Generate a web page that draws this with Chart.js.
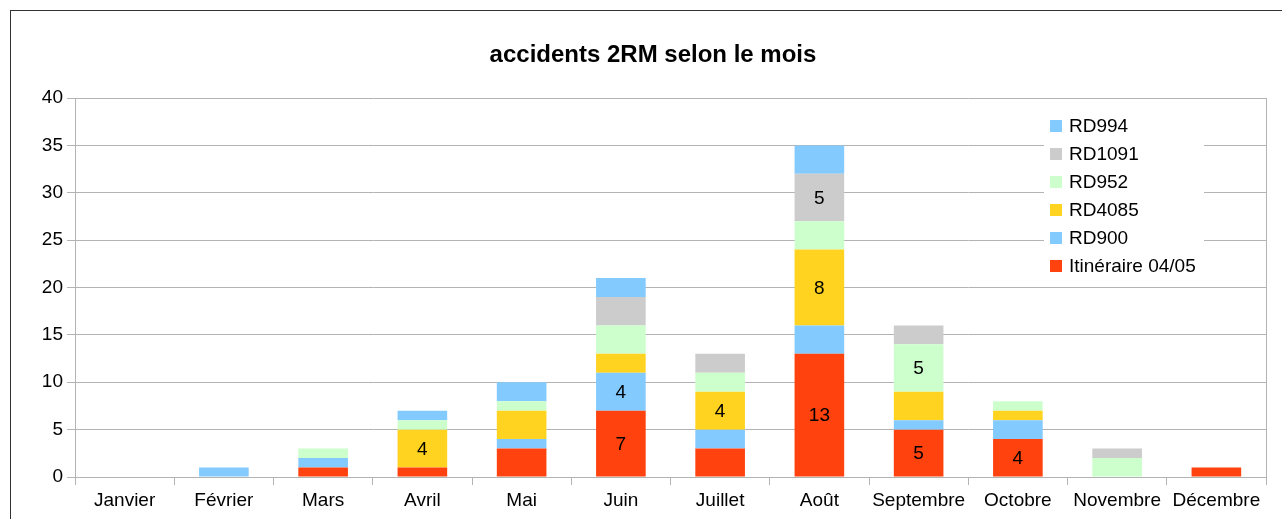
<!DOCTYPE html>
<html>
<head>
<meta charset="utf-8">
<script src="https://cdn.jsdelivr.net/npm/chart.js@4"></script>
<style>
  html, body { margin: 0; padding: 0; background: #fff; }
  #wrap { width: 1282px; height: 519px; }
</style>
</head>
<body>
<div id="wrap"><canvas id="c" width="1282" height="519"></canvas></div>
<script>
const months = ['Janvier', 'Février', 'Mars', 'Avril', 'Mai', 'Juin', 'Juillet', 'Août', 'Septembre', 'Octobre', 'Novembre', 'Décembre'];

const itineraire = [0, 0, 1, 1, 3, 7, 3, 13, 5, 4, 0, 1];
const rd900      = [0, 1, 1, 0, 1, 4, 2, 3, 1, 2, 0, 0];
const rd4085     = [0, 0, 0, 4, 3, 2, 4, 8, 3, 1, 0, 0];
const rd952      = [0, 0, 1, 1, 1, 3, 2, 3, 5, 1, 2, 0];
const rd1091     = [0, 0, 0, 0, 0, 3, 2, 5, 2, 0, 1, 0];
const rd994      = [0, 0, 0, 1, 2, 2, 0, 3, 0, 0, 0, 0];

const yTicks = [0, 5, 10, 15, 20, 25, 30, 35, 40];
const FONT = '"Liberation Sans", Arial, sans-serif';

const series = [
    { label: 'Itinéraire 04/05', data: itineraire, color: '#ff420e' },
    { label: 'RD900',            data: rd900,      color: '#83caff' },
    { label: 'RD4085',           data: rd4085,     color: '#ffd320' },
    { label: 'RD952',            data: rd952,      color: '#ccffcc' },
    { label: 'RD1091',           data: rd1091,     color: '#cccccc' },
    { label: 'RD994',            data: rd994,      color: '#83caff' },
];

/* frame, title, right border, value labels, legend */
const decor = {
    id: 'decor',
    beforeDraw(chart) {
        const ctx = chart.ctx;
        ctx.save();
        ctx.fillStyle = '#fff';
        ctx.fillRect(0, 0, chart.width, chart.height);
        ctx.strokeStyle = '#333';
        ctx.lineWidth = 1;
        ctx.strokeRect(10.5, 10.5, 1320, 600);
        ctx.fillStyle = '#000';
        ctx.font = 'bold 24px ' + FONT;
        ctx.textAlign = 'center';
        ctx.textBaseline = 'middle';
        ctx.fillText('accidents 2RM selon le mois', 653, 55);
        ctx.restore();
    },
    afterDatasetsDraw(chart) {
        const ctx = chart.ctx, a = chart.chartArea;
        ctx.save();
        ctx.strokeStyle = '#b3b3b3';
        ctx.lineWidth = 1;
        ctx.beginPath();
        ctx.moveTo(Math.round(a.right) + 0.5, a.top);
        ctx.lineTo(Math.round(a.right) + 0.5, a.bottom + 8);
        ctx.stroke();

        ctx.fillStyle = '#000';
        ctx.font = '19px ' + FONT;
        ctx.textAlign = 'center';
        ctx.textBaseline = 'middle';
        chart.data.datasets.forEach((ds, i) => {
            chart.getDatasetMeta(i).data.forEach((bar, j) => {
                const v = ds.data[j];
                if (v >= 4) ctx.fillText(String(v), bar.x, (bar.y + bar.base) / 2 + 1);
            });
        });

        ctx.fillStyle = '#fff';
        ctx.fillRect(1044, 112, 160, 168);
        const items = series.slice().reverse();
        ctx.textAlign = 'left';
        items.forEach((s, k) => {
            const y = 126 + k * 28;
            ctx.fillStyle = s.color;
            ctx.fillRect(1050, y - 6, 12, 12);
            ctx.fillStyle = '#000';
            ctx.fillText(s.label, 1069, y + 1);
        });
        ctx.restore();
    }
};

new Chart(document.getElementById('c').getContext('2d'), {
    type: 'bar',
    data: {
        labels: months,
        datasets: series.map(s => ({
            label: s.label, data: s.data,
            backgroundColor: s.color,
            borderWidth: 0,
            categoryPercentage: 0.5, barPercentage: 1,
        })),
    },
    options: {
        responsive: false, animation: false,
        layout: { padding: { top: 98, right: 16, left: 0, bottom: 0 } },
        plugins: { legend: { display: false }, title: { display: false }, tooltip: { enabled: false } },
        scales: {
            x: {
                stacked: true,
                afterFit: s => { s.height = 42; },
                grid: { drawOnChartArea: false, color: '#b3b3b3', tickLength: 8, offset: true },
                border: { color: '#b3b3b3' },
                ticks: { color: '#000', font: { family: FONT, size: 19 }, padding: 4, maxRotation: 0, autoSkip: false },
            },
            y: {
                stacked: true, min: 0, max: 40,
                afterFit: s => { s.width = 75; },
                afterBuildTicks: s => { s.ticks = yTicks.map(v => ({ value: v })); },
                grid: { color: '#b3b3b3', tickLength: 8 },
                border: { color: '#b3b3b3' },
                ticks: { color: '#000', font: { family: FONT, size: 19 }, padding: 4 },
            },
        },
    },
    plugins: [decor],
});
</script>
</body>
</html>
